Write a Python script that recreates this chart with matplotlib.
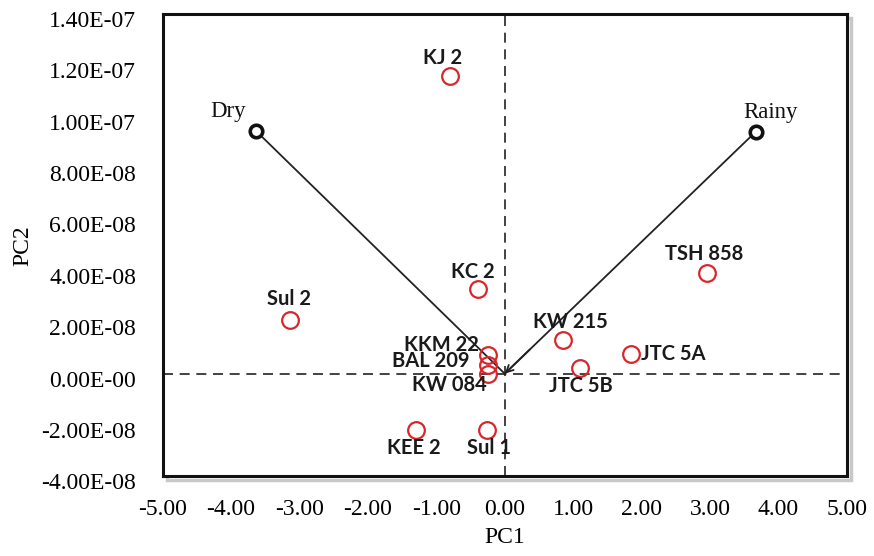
import matplotlib
matplotlib.use("Agg")
import matplotlib.pyplot as plt
import matplotlib.transforms as mtransforms
from matplotlib.patches import Rectangle
from matplotlib.ticker import FuncFormatter, MultipleLocator

# Scores of the cultivars
cultivars = ['KJ 2', 'TSH 858', 'Sul 2', 'KC 2', 'KW 215', 'JTC 5A', 'JTC 5B',
             'KKM 22', 'BAL 209', 'KW 084', 'KEE 2', 'Sul 1']
pc1 = [-0.80, 2.95, -3.14, -0.39, 0.85, 1.85, 1.10, -0.25, -0.25, -0.25, -1.29, -0.26]
pc2 = [1.16e-07, 3.93e-08, 2.10e-08, 3.31e-08, 1.30e-08, 0.78e-08, 0.22e-08,
       0.74e-08, 0.35e-08, 0.00e-08, -2.21e-08, -2.21e-08]

# Loadings of the seasons
seasons = ['Dry', 'Rainy']
season_pc1 = [-3.64, 3.67]
season_pc2 = [9.46e-08, 9.42e-08]

# label placement (pixels from the marker) and alignment
label_pos = {
    'KJ 2': (-7, 18, 'center'), 'TSH 858': (-2, 19, 'center'),
    'Sul 2': (-1, 21, 'center'), 'KC 2': (-5, 17, 'center'),
    'KW 215': (7, 18, 'center'), 'JTC 5A': (10, 0, 'left'),
    'JTC 5B': (1, -18, 'center'), 'KKM 22': (-9, 10, 'right'),
    'BAL 209': (-18, 4, 'right'), 'KW 084': (-1, -11, 'right'),
    'KEE 2': (-3, -18, 'center'), 'Sul 1': (2, -18, 'center'),
}
season_pos = {'Dry': (-28, 19), 'Rainy': (15, 19)}

serif = 'Liberation Serif'

fig = plt.figure(figsize=(8.74, 5.56), dpi=100)
ax = fig.add_axes([0.186, 0.143, 0.783, 0.832])

# shadow of the frame
fig.patches.append(Rectangle((0.186 + 4 / 874, 0.143 - 4 / 556), 0.783, 0.832,
                             transform=fig.transFigure, fill=False,
                             edgecolor='#c8c8c8', linewidth=2.5, zorder=-1))

ax.set_xlim(-5, 5)
ax.set_ylim(-4e-08, 1.4e-07)

ax.axhline(0, color='#222222', linewidth=1.2, dashes=(6, 4), zorder=1)
ax.axvline(0, color='#222222', linewidth=1.2, dashes=(6, 4), zorder=1)

# vectors from the origin to the seasons
for i, name in enumerate(seasons):
    ax.plot([0, season_pc1[i]], [0, season_pc2[i]], color='#222222',
            linewidth=1.3, zorder=2)
ax.annotate('', xy=(0, 0), xytext=(season_pc1[1] * 0.1, season_pc2[1] * 0.1),
            arrowprops=dict(arrowstyle='->,head_length=0.5,head_width=0.25',
                            color='#222222', lw=1.3, shrinkA=0, shrinkB=0))

ax.plot(season_pc1, season_pc2, 'o', markersize=9, markerfacecolor='white',
        markeredgecolor='#111111', markeredgewidth=2.6, linestyle='none', zorder=4)
for i, name in enumerate(seasons):
    dx, dy = season_pos[name]
    ax.annotate(name, (season_pc1[i], season_pc2[i]), xytext=(dx, dy),
                textcoords='offset pixels', ha='center', va='center',
                fontsize=16.5, family=serif, color='#111111')

ax.plot(pc1, pc2, 'o', markersize=12, markerfacecolor='none',
        markeredgecolor='#d9262b', markeredgewidth=1.6, linestyle='none', zorder=3)
for i, name in enumerate(cultivars):
    dx, dy, ha = label_pos[name]
    ax.annotate(name, (pc1[i], pc2[i]), xytext=(dx, dy),
                textcoords='offset pixels', ha=ha, va='center',
                fontsize=14.5, family='Lato', fontweight='bold', color='#1a1a1a',
                zorder=5)

# axes formatting
ax.xaxis.set_major_locator(MultipleLocator(1))
ax.yaxis.set_major_locator(MultipleLocator(2e-08))
ax.xaxis.set_major_formatter(FuncFormatter(lambda v, p: f'{v:.2f}'))


def sci_fmt(v, p):
    if abs(v) < 1e-12:
        return '0.00E-00'
    return f'{v:.2E}'


ax.yaxis.set_major_formatter(FuncFormatter(sci_fmt))
ax.tick_params(length=0, labelsize=17, pad=19)
ax.tick_params(axis='x', pad=16)
for lab in ax.get_xticklabels() + ax.get_yticklabels():
    lab.set_fontfamily(serif)
shift = mtransforms.ScaledTranslation(0, -5 / 100, fig.dpi_scale_trans)
for lab in ax.get_yticklabels():
    lab.set_transform(lab.get_transform() + shift)

ax.set_xlabel('PC1', fontsize=17, family=serif, labelpad=5)
ax.set_ylabel('PC2', fontsize=17, family=serif, labelpad=6)

for sp in ax.spines.values():
    sp.set_linewidth(2.2)
    sp.set_color('#111111')

fig.savefig('out.png', dpi=100)
